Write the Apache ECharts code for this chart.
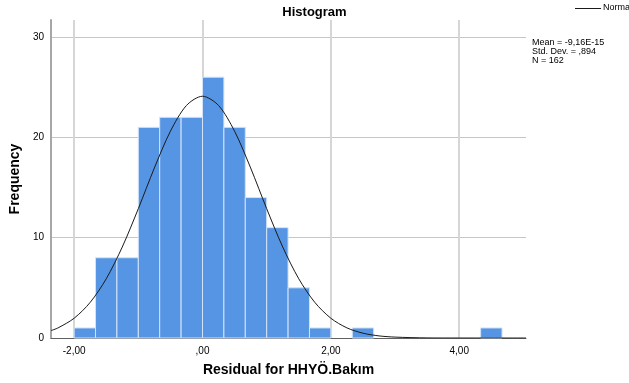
<!DOCTYPE html>
<html><head><meta charset="utf-8">
<script src="https://cdn.jsdelivr.net/npm/echarts@6/dist/echarts.min.js"></script>
<style>html,body{margin:0;padding:0;background:#fff}#c{width:629px;height:383px}</style>
</head><body><div id="c"></div>
<script>
// Histogram bins (bin width 1/3)
var binLo = [-2.0, -1.6667, -1.3333, -1.0, -0.6667, -0.3333, 0.0, 0.3333, 0.6667, 1.0, 1.3333, 1.6667, 2.3333, 4.3333];
var binHi = [-1.6667, -1.3333, -1.0, -0.6667, -0.3333, 0.0, 0.3333, 0.6667, 1.0, 1.3333, 1.6667, 2.0, 2.6667, 4.6667];
var counts = [1, 8, 8, 21, 22, 22, 26, 21, 14, 11, 5, 1, 1, 1];
// Normal curve points
var curveX = [-2.36, -2.25, -2.0, -1.75, -1.5, -1.25, -1.0, -0.75, -0.5, -0.25, 0.0, 0.25, 0.5, 0.75, 1.0, 1.25, 1.5, 1.75, 2.0, 2.25, 2.5, 2.75, 3.0, 3.5, 4.0, 4.5, 5.04];
var curveY = [0.74, 1.01, 1.97, 3.55, 5.90, 9.07, 12.89, 16.95, 20.61, 23.18, 24.10, 23.18, 20.61, 16.95, 12.89, 9.07, 5.90, 3.55, 1.97, 1.01, 0.48, 0.21, 0.09, 0.01, 0.0, 0.0, 0.0];
var xTicks = [-2, 0, 2, 4];
var yTicks = [0, 10, 20, 30];
var statLines = ['Mean = -9,16E-15', 'Std. Dev. = ,894', 'N = 162'];
var legendLabel = 'Normal';

var FONT = '"Liberation Sans", Arial, sans-serif';
var chart = echarts.init(document.getElementById('c'), null, {renderer: 'canvas'});
var barData = binLo.map(function (lo, i) { return [lo, binHi[i], counts[i]]; });
var lineData = curveX.map(function (x, i) { return [x, curveY[i]]; });

function fmtX(v) {
  var s = Math.abs(v).toFixed(2).replace('.', ',');
  if (s.charAt(0) === '0') s = s.substring(1);
  return (v < 0 ? '-' : '') + s;
}

var graphics = statLines.map(function (t, i) {
  return {type: 'text', left: 532, top: 38.5 + i * 8.6,
    style: {text: t, font: '9px ' + FONT, fill: '#000'}};
});
graphics.push({type: 'line', shape: {x1: 575, y1: 8.5, x2: 601, y2: 8.5}, style: {stroke: '#1a1a1a', lineWidth: 1}});
graphics.push({type: 'text', left: 603, top: 3.5, style: {text: legendLabel, font: '9px ' + FONT, fill: '#000'}});

chart.setOption({
  animation: false,
  backgroundColor: '#ffffff',
  title: {
    text: 'Histogram', left: 'center', top: 1,
    textStyle: {fontFamily: FONT, fontSize: 13, fontWeight: 'bold', color: '#000'}
  },
  graphic: graphics,
  grid: {left: 50, right: 103, top: 20, bottom: 45},
  xAxis: {
    type: 'value', min: -2.36, max: 5.04,
    name: 'Residual for HHYÖ.Bakım', nameLocation: 'middle', nameGap: 25,
    nameTextStyle: {fontFamily: FONT, fontSize: 14, fontWeight: 'bold', color: '#000'},
    axisLine: {show: true, onZero: false, lineStyle: {color: '#606060', width: 1}},
    axisTick: {show: true, length: 0, customValues: xTicks},
    axisLabel: {customValues: xTicks, formatter: fmtX, fontFamily: FONT, fontSize: 10, color: '#000', margin: 8},
    splitLine: {show: true, lineStyle: {color: '#d6d6d6', width: 2}}
  },
  yAxis: {
    type: 'value', min: 0, max: 31.7,
    name: 'Frequency', nameLocation: 'middle', nameGap: 27, nameRotate: 90,
    nameTextStyle: {fontFamily: FONT, fontSize: 14, fontWeight: 'bold', color: '#000'},
    axisLine: {show: true, onZero: false, lineStyle: {color: '#a6a6a6', width: 2}},
    axisTick: {show: true, length: 0, customValues: yTicks},
    axisLabel: {customValues: yTicks, fontFamily: FONT, fontSize: 10, color: '#000', margin: 7},
    splitLine: {show: true, lineStyle: {color: '#c6c6c6', width: 1}}
  },
  series: [
    {
      type: 'custom', name: 'bars', data: barData,
      encode: {x: [0, 1], y: 2},
      renderItem: function (params, api) {
        var p0 = api.coord([api.value(0), api.value(2)]);
        var p1 = api.coord([api.value(1), 0]);
        return {
          type: 'rect',
          shape: {x: p0[0], y: p0[1], width: p1[0] - p0[0], height: p1[1] - p0[1]},
          style: {fill: '#5595e3', stroke: '#d4e3f7', lineWidth: 1}
        };
      },
      z: 2
    },
    {
      type: 'line', name: legendLabel, data: lineData,
      smooth: 0.3, symbol: 'none', showSymbol: false,
      lineStyle: {color: '#1a1a1a', width: 1},
      z: 3
    }
  ]
});
</script>
</body></html>
